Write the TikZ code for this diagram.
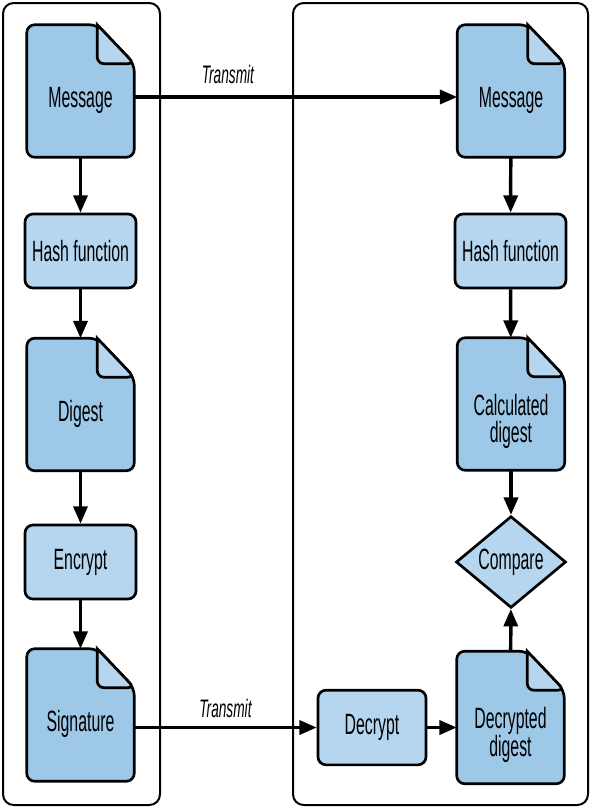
\documentclass[tikz,border=0pt]{standalone}
\usepackage{fontspec}
\setmainfont{Liberation Sans}[FakeStretch=0.54]
\usepackage{tikz}
\usetikzlibrary{shapes,arrows.meta,positioning,calc,backgrounds}

\definecolor{docblue}{HTML}{9DC8E8}
\definecolor{boxblue}{HTML}{B5D6EE}

\tikzset{
    doctext/.style={font=\fontsize{22}{20.5}\selectfont, align=center, yshift=-7pt},
    doc/.style={minimum width=80.25pt, minimum height=99pt, inner sep=0pt,
        label={[doctext]center:#1}},
    doc2/.style={minimum width=80.25pt, minimum height=99pt, inner sep=0pt,
        label={[doctext, yshift=-6pt]center:#1}},
    proc/.style={draw, line width=2pt, rounded corners=6pt, fill=boxblue,
        minimum width=83.25pt, minimum height=55.5pt, inner sep=0pt,
        font=\fontsize{22}{20.5}\selectfont},
    cmpbox/.style={draw, line width=2pt, diamond, fill=boxblue, inner sep=0pt,
        minimum width=82.5pt, minimum height=60pt, font=\fontsize{22}{20.5}\selectfont},
    arr/.style={line width=2.6pt, -{Triangle[length=13pt, width=10.5pt]}},
    tlabel/.style={font=\fontsize{19}{19}\selectfont\itshape}
}

\begin{document}
\begin{tikzpicture}[x=0.75pt, y=-0.75pt]
    \useasboundingbox (0,0) rectangle (592,808);

    % Sender and receiver panels
    \draw[line width=1.5pt, rounded corners=8pt] (3,3) rectangle (160,805);
    \draw[line width=1.5pt, rounded corners=8pt] (293,3) rectangle (588,805);

    % Sender side
    \node[doc={Message}] (msgL) at (80.5,91) {};
    \node[proc] (hashL) at (80.5,251) {Hash function};
    \node[doc={Digest}] (digL) at (80.5,404.5) {};
    \node[proc] (encL) at (80.5,562) {Encrypt};
    \node[doc={Signature}] (sigL) at (80.5,715) {};

    % Receiver side
    \node[doc={Message}] (msgR) at (511,91) {};
    \node[proc] (hashR) at (510.5,251) {Hash function};
    \node[doc2={Calculated\\digest}] (calcR) at (511,404) {};
    \node[cmpbox] (cmp) at (511,562) {Compare};
    \node[doc2={Decrypted\\digest}] (decD) at (510.5,717.5) {};
    \node[proc, minimum width=81pt, minimum height=56pt] (dec) at (372,727.5) {Decrypt};

    % Document outlines with folded corner
    \begin{scope}[on background layer]
        \foreach \n in {msgL,digL,sigL,msgR,calcR,decD}{
            \draw[line width=2pt, rounded corners=6pt, fill=docblue]
                ($(\n.north east)+(-37,0)$) -- (\n.north west) -- (\n.south west)
                -- (\n.south east) -- ($(\n.north east)+(0,39)$) -- cycle;
            \draw[line width=2pt, rounded corners=5pt, fill=boxblue]
                ($(\n.north east)+(-37,0)$) -- ($(\n.north east)+(-37,39)$)
                -- ($(\n.north east)+(0,39)$) [sharp corners] -- cycle;
        }
    \end{scope}

    % Flow on the sender side
    \draw[arr] (msgL) -- (hashL);
    \draw[arr] (hashL) -- (digL);
    \draw[arr] (digL) -- (encL);
    \draw[arr] (encL) -- (sigL);

    % Flow on the receiver side
    \draw[arr] (msgR) -- (hashR);
    \draw[arr] (hashR) -- (calcR);
    \draw[arr] (calcR) -- (cmp);
    \draw[arr] (decD) -- (cmp);
    \draw[arr] (dec.east) -- (dec.east -| decD.west);

    % Transmit
    \draw[arr] ([yshift=-4.5pt]msgL.east) -- ([yshift=-4.5pt]msgR.west)
        node[pos=0.29, above=5pt, tlabel] {Transmit};
    \draw[arr] (sigL.east |- dec.west) -- (dec.west)
        node[midway, above=3pt, tlabel] {Transmit};
\end{tikzpicture}
\end{document}
